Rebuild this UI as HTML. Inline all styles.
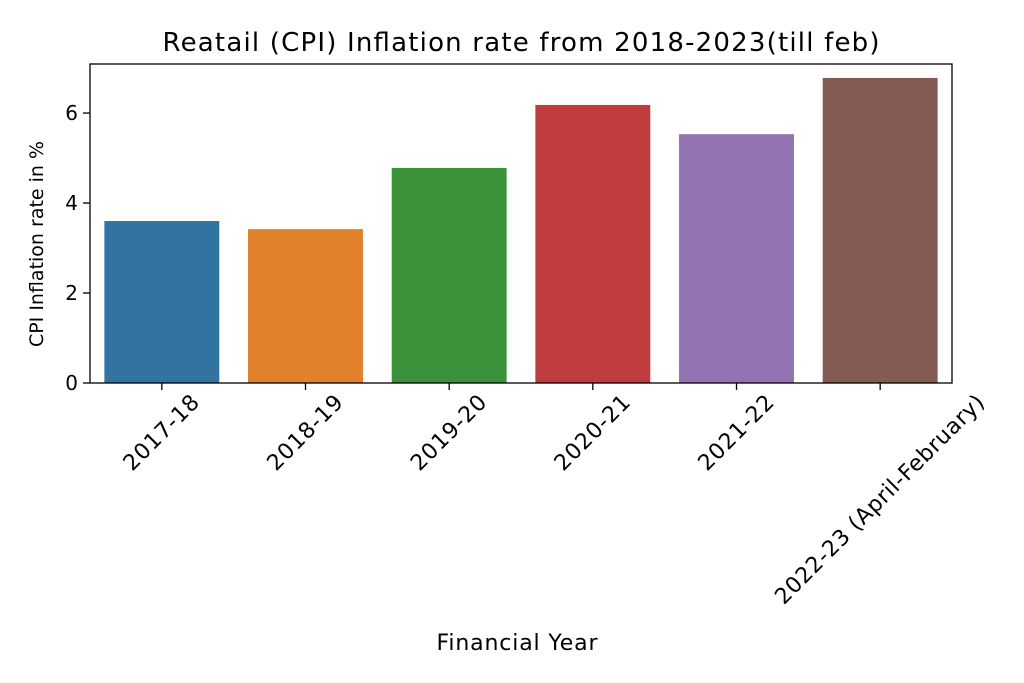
<!DOCTYPE html>
<html><head><meta charset="utf-8"><style>
body{margin:0;background:#fff;}
svg{display:block;font-family:"DejaVu Sans","Liberation Sans",sans-serif;}
</style></head><body>
<svg id="chart" width="1024" height="683" viewBox="0 0 1024 683">
<text x="521" y="51" font-size="26" text-anchor="middle" textLength="717" lengthAdjust="spacing" fill="#000">Reatail (CPI) Inflation rate from 2018-2023(till feb)</text>
<g id="bars"></g>
<g id="yaxis"></g>
<g id="xaxis"></g>
<rect x="90" y="64" width="862" height="319" fill="none" stroke="#000" stroke-width="1.3"/>
<text transform="translate(43,244) rotate(-90)" font-size="19" text-anchor="middle">CPI Inflation rate in %</text>
<text x="517" y="650" font-size="22" text-anchor="middle" textLength="161" lengthAdjust="spacing">Financial Year</text>
</svg>
<script>
const categories=["2017-18","2018-19","2019-20","2020-21","2021-22","2022-23 (April-February)"];
const values=[3.6,3.42,4.78,6.18,5.53,6.78];
const colors=["#3274a1","#e1812c","#3a923a","#c03d3e","#9372b2","#845b53"];
const yTicks=[0,2,4,6];
const L=90,R=952,T=64,B=383,YMAX=7.09;
const ns="http://www.w3.org/2000/svg";
const y=v=>B-(v/YMAX)*(B-T);
const band=(R-L)/categories.length;
const xc=i=>L+band*(i+0.5);
const bw=band*0.8;
const bars=document.getElementById('bars'),ya=document.getElementById('yaxis'),xa=document.getElementById('xaxis');
values.forEach((v,i)=>{
 const r=document.createElementNS(ns,'rect');
 
 
 r.setAttribute('x',xc(i)-bw/2);r.setAttribute('y',y(v));
 r.setAttribute('width',bw);r.setAttribute('height',B-y(v));
 r.setAttribute('fill',colors[i]);bars.appendChild(r);
});
yTicks.forEach(t=>{
 const l=document.createElementNS(ns,'line');
 
 
 l.setAttribute('x1',L-7);l.setAttribute('x2',L);l.setAttribute('y1',y(t));l.setAttribute('y2',y(t));
 l.setAttribute('stroke','#000');l.setAttribute('stroke-width','1.3');ya.appendChild(l);
 const tx=document.createElementNS(ns,'text');
 
 
 tx.setAttribute('x',L-12);tx.setAttribute('y',y(t)+7);tx.setAttribute('text-anchor','end');
 tx.setAttribute('font-size','20');tx.textContent=t;ya.appendChild(tx);
});
categories.forEach((c,i)=>{
 const l=document.createElementNS(ns,'line');
 
 
 l.setAttribute('x1',xc(i));l.setAttribute('x2',xc(i));l.setAttribute('y1',B);l.setAttribute('y2',B+7);
 l.setAttribute('stroke','#000');l.setAttribute('stroke-width','1.3');xa.appendChild(l);
 const tx=document.createElementNS(ns,'text');
 
 
 tx.setAttribute('text-anchor','middle');tx.setAttribute('font-size','22');
 tx.setAttribute('dominant-baseline','central');
 tx.textContent=c;xa.appendChild(tx);
 const w=tx.getComputedTextLength()*1.05;
 tx.setAttribute('textLength',w);tx.setAttribute('lengthAdjust','spacing');
 const half=(w+20)*0.3535;
 tx.setAttribute('transform','translate('+xc(i)+','+(B+9+half)+') rotate(-45)');
});
</script>
</body></html>
